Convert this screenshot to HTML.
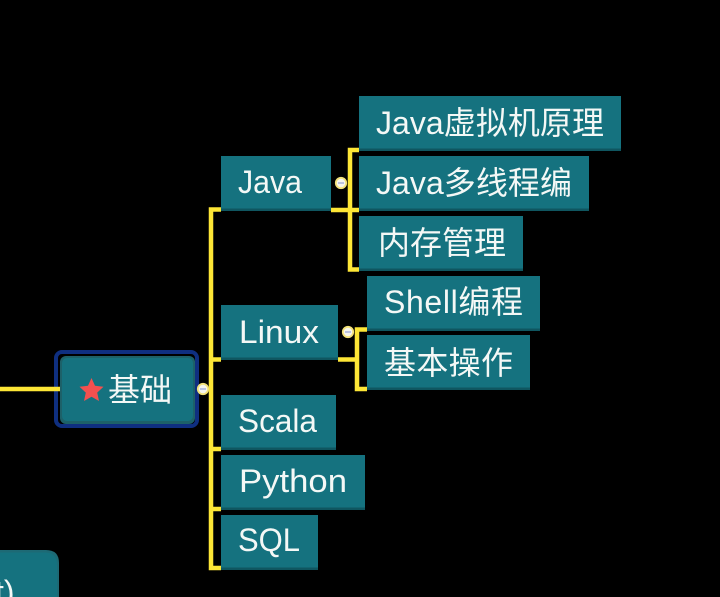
<!DOCTYPE html>
<html><head><meta charset="utf-8">
<style>
html,body{margin:0;padding:0;background:#000;width:720px;height:597px;overflow:hidden}
svg{display:block}
text{font-family:"Liberation Sans","Noto Sans CJK SC",sans-serif;font-size:32px;fill:#f4f8f6}
.n{fill:#15727f}
.s{fill:#0f5660}
</style></head><body>
<svg width="720" height="597" viewBox="0 0 720 597" xmlns="http://www.w3.org/2000/svg">
<rect width="720" height="597" fill="#000"/>
<g fill="none" stroke="#fde636" stroke-width="4.500">
<path d="M221 209.500H211V568H221"/>
<path d="M211 359.500H221M211 449H221M211 509H221"/>
<path d="M331 210H359"/>
<path d="M359 150H350V269.500H359"/>
<path d="M338 359.500H357"/>
<path d="M367 329.500H357V389H367"/>
</g>
<path d="M195 389H202" stroke="#6f8f80" stroke-width="4"/>
<!-- bottom node -->
<path d="M0 550H46Q59 550 59 563V597H0Z" fill="#1d6a75"/>
<path d="M0 552.500H45Q57 552.500 57 565V597H0Z" fill="#15727f"/>
<text x="-5" y="603">t)</text>
<!-- root -->
<rect x="56" y="352" width="141" height="74" rx="6" fill="#000" stroke="#0f2f80" stroke-width="4"/>
<rect x="60" y="356" width="135" height="68" rx="6" fill="#1d6169"/>
<rect x="62" y="358" width="131" height="63" rx="5" fill="#15727f"/>
<path d="M0 389H60" fill="none" stroke="#fde636" stroke-width="4.500"/>
<polygon points="91.500,378 95,385.800 103.500,386.800 97.200,392.600 99,401 91.500,396.800 84,401 85.800,392.600 79.500,386.800 88,385.800" fill="#f4504f"/>
<text x="108" y="401" textLength="64">基础</text>
<!-- nodes -->
<g>
<rect class="s" x="221" y="156" width="110" height="55"/><rect class="n" x="221" y="156" width="110" height="52.500"/>
<rect class="s" x="359" y="96" width="262" height="55"/><rect class="n" x="359" y="96" width="262" height="52.500"/>
<rect class="s" x="359" y="156" width="230" height="55"/><rect class="n" x="359" y="156" width="230" height="52.500"/>
<rect class="s" x="359" y="216" width="164" height="55"/><rect class="n" x="359" y="216" width="164" height="52.500"/>
<rect class="s" x="221" y="305" width="117" height="55"/><rect class="n" x="221" y="305" width="117" height="52.500"/>
<rect class="s" x="367" y="276" width="173" height="55"/><rect class="n" x="367" y="276" width="173" height="52.500"/>
<rect class="s" x="367" y="335" width="163" height="55"/><rect class="n" x="367" y="335" width="163" height="52.500"/>
<rect class="s" x="221" y="395" width="115" height="55"/><rect class="n" x="221" y="395" width="115" height="52.500"/>
<rect class="s" x="221" y="455" width="144" height="55"/><rect class="n" x="221" y="455" width="144" height="52.500"/>
<rect class="s" x="221" y="515" width="97" height="55"/><rect class="n" x="221" y="515" width="97" height="52.500"/>
</g>
<text x="238" y="193" textLength="64" lengthAdjust="spacingAndGlyphs">Java</text>
<text x="376" y="134" textLength="228">Java虚拟机原理</text>
<text x="376" y="194" textLength="196">Java多线程编</text>
<text x="378" y="254" textLength="128">内存管理</text>
<text x="239" y="343" textLength="80" lengthAdjust="spacingAndGlyphs">Linux</text>
<text x="384" y="313" textLength="139">Shell编程</text>
<text x="384" y="374" textLength="129">基本操作</text>
<text x="238" y="432" textLength="79" lengthAdjust="spacingAndGlyphs">Scala</text>
<text x="239" y="492" textLength="108" lengthAdjust="spacingAndGlyphs">Python</text>
<text x="238" y="551" textLength="62" lengthAdjust="spacingAndGlyphs">SQL</text>
<!-- collapse dots -->
<g>
<circle cx="203" cy="389" r="5.200" fill="#f6f6ee" stroke="#f3e27a" stroke-width="1.800"/>
<path d="M200 389H206" stroke="#aab4dc" stroke-width="1.500"/>
<circle cx="341" cy="183" r="5.200" fill="#f6f6ee" stroke="#f3e27a" stroke-width="1.800"/>
<path d="M338 183H344" stroke="#aab4dc" stroke-width="1.500"/>
<circle cx="348" cy="332" r="5.200" fill="#f6f6ee" stroke="#f3e27a" stroke-width="1.800"/>
<path d="M345 332H351" stroke="#aab4dc" stroke-width="1.500"/>
</g>
</svg>
</body></html>
